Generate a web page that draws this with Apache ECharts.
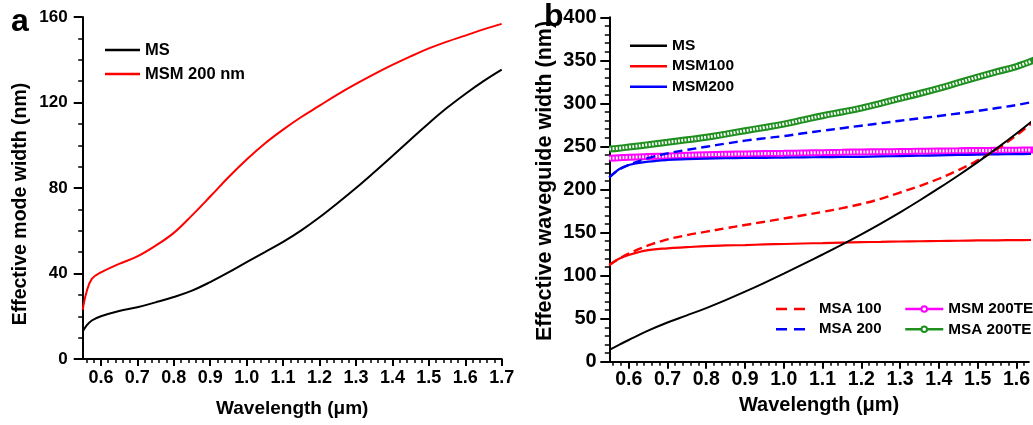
<!DOCTYPE html>
<html>
<head>
<meta charset="utf-8">
<script src="https://cdn.jsdelivr.net/npm/echarts@6.0.0/dist/echarts.min.js"></script>
<style>
  html, body { margin: 0; padding: 0; background: #fff; }
  #chart { width: 1033px; height: 425px; }
</style>
</head>
<body>
<div id="chart"></div>
<script>
// ---- Panel a: effective mode width (nm) vs wavelength (um) ----
const wavelengthA = [0.55, 0.56, 0.575, 0.6, 0.65, 0.7, 0.75, 0.8, 0.85, 0.9, 0.95, 1.0, 1.05, 1.1, 1.15,
                     1.2, 1.25, 1.3, 1.35, 1.4, 1.45, 1.5, 1.55, 1.6, 1.65, 1.7];
const modeWidthMS = [12.8, 15.5, 18, 20, 22.5, 24.2, 26.5, 29, 32, 36, 40.5, 45.3, 50, 54.8, 60.2,
                     66.3, 73, 80, 87.4, 95, 102.7, 110.3, 117.5, 124, 130, 135.4];
const modeWidthMSM200 = [23, 31, 37.5, 40.5, 44.5, 48, 53, 59, 67.2, 76, 85, 93.3, 100.8, 107.3, 113.2,
                         118.5, 123.8, 128.7, 133.3, 137.6, 141.6, 145.3, 148.5, 151.3, 154.2, 156.8];

// ---- Panel b: effective waveguide width (nm) vs wavelength (um) ----
const wavelengthB = [0.55, 0.575, 0.6, 0.65, 0.7, 0.75, 0.8, 0.85, 0.9, 0.95, 1.0, 1.05, 1.1, 1.15,
                     1.2, 1.25, 1.3, 1.35, 1.4, 1.45, 1.5, 1.55, 1.6, 1.65];
const guideMS = [13.6, 19.6, 25.2, 36, 45.5, 53.8, 62.3, 71.5, 81.3, 91.6, 102.3, 113.3, 124.5, 136,
                 148, 160.5, 173.5, 187.2, 201.5, 216.3, 231.8, 248, 265, 283];
const guideMSM100 = [112.3, 119.5, 124, 129.5, 131.7, 133, 134.3, 135, 135.5, 136.2, 136.7, 137.3, 137.8, 138.3,
                     138.8, 139.2, 139.6, 139.9, 140.2, 140.5, 140.8, 141, 141.2, 141.4];
const guideMSM200 = [214, 223.5, 228.5, 232.3, 234.3, 235.2, 235.8, 236.3, 236.6, 236.8, 237, 237.3, 237.6, 237.8,
                     238, 238.4, 238.8, 239.2, 239.7, 240.1, 240.5, 240.8, 241.1, 241.4];
const guideMSA100 = [112.3, 119.5, 125.5, 135, 142, 147, 151, 155, 158.8, 162.5, 166.3, 170.1, 174, 178.3,
                     183.2, 189.2, 196.5, 204, 212.5, 222.5, 233.8, 247, 262.8, 281];
const guideMSA200 = [214, 223, 228.5, 236.5, 242, 246, 249.7, 253.3, 256.7, 259.5, 262.1, 265.3, 268.3, 271.2,
                     274.1, 277, 279.9, 282.6, 285.4, 288.3, 291.2, 294.6, 298.1, 302.5];
const guideMSM200TE = [236.2, 236.8, 237.4, 238.2, 238.9, 239.7, 240.4, 240.9, 241.3, 241.7, 242, 242.4, 242.8, 243.2,
                       243.6, 243.8, 244.1, 244.4, 244.7, 245, 245.3, 245.5, 245.7, 246];
const guideMSA200TE = [247, 248, 249.3, 252, 254.8, 257.7, 260.6, 264.3, 268.3, 272, 276, 280.8, 285.7, 290,
                       294.6, 300, 305.9, 311.5, 317.5, 324, 330.5, 336.8, 342.8, 351];

// ---- Tick values ----
const xTicksA = [0.6, 0.7, 0.8, 0.9, 1.0, 1.1, 1.2, 1.3, 1.4, 1.5, 1.6, 1.7];
const xTicksB = [0.6, 0.7, 0.8, 0.9, 1.0, 1.1, 1.2, 1.3, 1.4, 1.5, 1.6];
const xMinorStep = 0.02;

const FONT = '"Liberation Sans", Arial, Helvetica, sans-serif';

function pairs(xs, ys) { return xs.map((x, i) => [x, ys[i]]); }
function minorTicks(lo, hi, step) {
  const out = [];
  for (let k = Math.ceil(lo / step - 1e-9); k * step <= hi + 1e-9; k++) out.push(+(k * step).toFixed(4));
  return out;
}

function boldText(size, extra) {
  return Object.assign({ color: '#000', fontFamily: FONT, fontWeight: 'bold', fontSize: size }, extra || {});
}

function mainXAxis(grid, min, max, ticks, labelSize, labelMargin, nameGap, nameSize) {
  return {
    gridIndex: grid, type: 'value', min: min, max: max, position: 'bottom',
    axisLine: { show: true, lineStyle: { color: '#000', width: 2 } },
    axisTick: { show: true, customValues: ticks, length: 7, lineStyle: { color: '#000', width: 2 } },
    axisLabel: boldText(labelSize, { customValues: ticks, margin: labelMargin, formatter: v => v.toFixed(1) }),
    splitLine: { show: false },
    name: 'Wavelength (\u03BCm)', nameLocation: 'middle', nameGap: nameGap,
    nameTextStyle: boldText(nameSize)
  };
}
function minorXAxis(grid, min, max) {
  return {
    gridIndex: grid, type: 'value', min: min, max: max, position: 'bottom',
    axisLine: { show: false }, axisLabel: { show: false }, splitLine: { show: false },
    axisTick: { show: true, customValues: minorTicks(min, max, xMinorStep), length: 4,
                lineStyle: { color: '#000', width: 1.5 } }
  };
}
function yAxisOf(grid, max, interval, minorSplit, labelSize, labelMargin, name, nameGap, nameSize, namePad) {
  return {
    gridIndex: grid, type: 'value', min: 0, max: max, interval: interval,
    axisLine: { show: true, lineStyle: { color: '#000', width: 2 } },
    axisTick: { show: true, length: 9, lineStyle: { color: '#000', width: 2 } },
    minorTick: { show: true, splitNumber: minorSplit, length: 4.5, lineStyle: { color: '#000', width: 1.5 } },
    splitLine: { show: false }, minorSplitLine: { show: false },
    axisLabel: boldText(labelSize, { margin: labelMargin }),
    name: name, nameLocation: 'middle', nameGap: nameGap,
    nameTextStyle: boldText(nameSize, { padding: namePad })
  };
}

function curve(name, xIdx, yIdx, xs, ys, color, width, type) {
  return {
    name: name, type: 'line', xAxisIndex: xIdx, yAxisIndex: yIdx,
    data: pairs(xs, ys), smooth: 0.4,
    symbol: 'none', color: color,
    lineStyle: { color: color, width: width, type: type || 'solid' },
    emphasis: { disabled: true }, silent: true
  };
}
// Open-circle band: a thick coloured stroke with a fine white dash run along its centre
function ringBand(name, xIdx, yIdx, xs, ys, color) {
  const band = curve(name, xIdx, yIdx, xs, ys, color, 7);
  band.symbol = 'emptyCircle';
  band.showSymbol = false;
  const holes = curve(name + ' rings', xIdx, yIdx, xs, ys, '#ffffff', 3, [1.8, 1.5]);
  return [band, holes];
}

const dashIcon = 'path://M0 0h11v2.5h-11zM18 0h11v2.5h-11zM38 0h0.01v2.5h-0.01z';

const legendBase = {
  orient: 'vertical', padding: 0, selectedMode: false,
  itemStyle: { borderWidth: 0 }
};

const option = {
  animation: false,
  backgroundColor: '#fff',
  grid: [
    { left: 82.7, top: 17, width: 419, height: 342 },
    { left: 609.3, top: 17.3, width: 424, height: 344.4 }
  ],
  xAxis: [
    mainXAxis(0, 0.55, 1.7, xTicksA, 18, 10, 40, 19),
    minorXAxis(0, 0.55, 1.7),
    mainXAxis(1, 0.55, 1.632, xTicksB, 19.5, 8, 34, 20),
    minorXAxis(1, 0.55, 1.632)
  ],
  yAxis: [
    yAxisOf(0, 160, 40, 4, 17, 15, 'Effective mode width (nm)', 52, 19.5, [0, 32, 0, 0]),
    yAxisOf(1, 400, 50, 5, 20, 12.6, 'Effective waveguide width (nm)', 53, 21.5, [0, 0, 0, 17])
  ],
  legend: [
    Object.assign({}, legendBase, {
      left: 105, top: 40, itemWidth: 35, itemHeight: 2.5, itemGap: 4, icon: 'rect',
      textStyle: boldText(16.5, { lineHeight: 20 }),
      data: ['MS', 'MSM 200 nm']
    }),
    Object.assign({}, legendBase, {
      left: 630, top: 36.7, itemWidth: 37, itemHeight: 2.5, itemGap: 2.5, icon: 'rect',
      textStyle: boldText(15.5, { lineHeight: 18 }),
      data: ['MS', 'MSM100', 'MSM200']
    }),
    Object.assign({}, legendBase, {
      left: 776, top: 300, itemWidth: 38, itemHeight: 2.5, itemGap: 2.3,
      textStyle: boldText(15, { lineHeight: 18 }),
      data: [{ name: 'MSA 100', icon: dashIcon }, { name: 'MSA 200', icon: dashIcon }]
    }),
    {
      orient: 'vertical', padding: 0, selectedMode: false,
      left: 904, top: 300, itemWidth: 38, itemHeight: 7, itemGap: 2.3,
      lineStyle: { width: 2.5 },
      textStyle: boldText(15.3, { lineHeight: 18 }),
      data: ['MSM 200TE', 'MSA 200TE']
    }
  ],
  graphic: [
    { type: 'text', left: 11, top: 6.4, silent: true,
      style: { text: 'a', fill: '#000', font: 'bold 32px ' + FONT } },
    { type: 'text', left: 544, top: 1, silent: true,
      style: { text: 'b', fill: '#000', font: 'bold 32px ' + FONT } }
  ],
  series: [
    curve('MS', 0, 0, wavelengthA, modeWidthMS, '#000000', 2),
    curve('MSM 200 nm', 0, 0, wavelengthA, modeWidthMSM200, '#ff0000', 2),

    ...ringBand('MSA 200TE', 2, 1, wavelengthB, guideMSA200TE, '#1f8f1f'),
    ...ringBand('MSM 200TE', 2, 1, wavelengthB, guideMSM200TE, '#ff00ff'),
    curve('MSM200', 2, 1, wavelengthB, guideMSM200, '#0000ff', 2.2),
    curve('MSA 200', 2, 1, wavelengthB, guideMSA200, '#0000ff', 2.4, [9, 5]),
    curve('MSM100', 2, 1, wavelengthB, guideMSM100, '#ff0000', 2.2),
    curve('MSA 100', 2, 1, wavelengthB, guideMSA100, '#ff0000', 2.4, [9, 5]),
    curve('MS', 2, 1, wavelengthB, guideMS, '#000000', 2)
  ]
};

const chart = echarts.init(document.getElementById('chart'), null, { renderer: 'canvas' });
chart.setOption(option);
</script>
</body>
</html>
